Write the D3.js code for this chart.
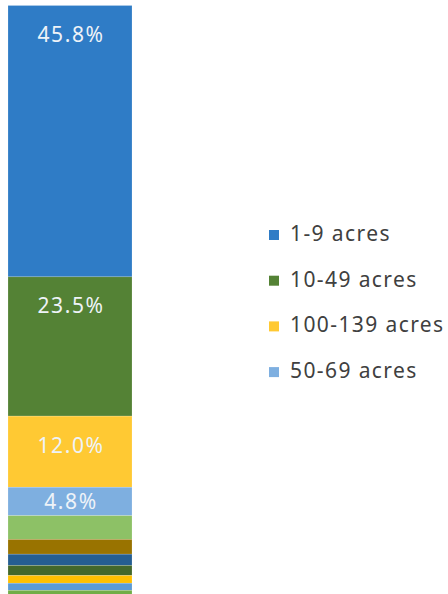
<!DOCTYPE html>
<html>
<head>
<meta charset="utf-8">
<script src="https://cdn.jsdelivr.net/npm/d3@7"></script>
<style>
  body { margin: 0; background: #fff; }
  svg { display: block; }
</style>
</head>
<body>
<script>
// farm size shares (percent), bottom of the bar is cut off like the source
var categories = ["1-9 acres", "10-49 acres", "100-139 acres", "50-69 acres", "70-99 acres",
                  "140-179 acres", "180-219 acres", "220-259 acres", "260-499 acres", "500-999 acres", "1,000+ acres"];
var values = [45.8, 23.5, 12.0, 4.8, 4.0, 2.5, 1.9, 1.7, 1.3, 1.2, 1.3];
var colors = ["#2f7cc6", "#548235", "#ffc933", "#7eafe0", "#8dc166", "#997300",
              "#255e91", "#43682b", "#ffc000", "#5b9bd5", "#70ad47"];
var legendItems = categories.slice(0, 4);

var width = 448, height = 594;

var svg = d3.select("body").append("svg")
  .attr("width", width)
  .attr("height", height);

var ends = d3.cumsum(values);
var segs = values.map(function(v, i) {
  return { name: categories[i], value: v, y0: ends[i] - v, y1: ends[i], color: colors[i] };
});

var y = d3.scaleLinear().domain([0, 100]).range([5.5, 598]);
var x = d3.scaleBand().domain(["share"]).range([8, 132]).padding(0);

svg.selectAll("rect.seg")
  .data(segs)
  .enter().append("rect")
  .attr("class", "seg")
  .attr("x", x("share"))
  .attr("width", x.bandwidth())
  .attr("y", function(d) { return y(d.y0); })
  .attr("height", function(d) { return y(d.y1) - y(d.y0); })
  .attr("fill", function(d) { return d.color; })
  .attr("stroke", "rgba(255,255,255,0.35)")
  .attr("stroke-width", 0.5);

// value labels, only on the bigger pieces
svg.selectAll("text.lbl")
  .data(segs.filter(function(d) { return d.value >= 4.5; }))
  .enter().append("text")
  .attr("class", "lbl")
  .attr("x", x("share") + x.bandwidth() / 2 + 1)
  .attr("y", function(d) {
    var h = y(d.y1) - y(d.y0);
    return y(d.y0) + Math.min(36.5, h / 2 + 7.5);
  })
  .attr("text-anchor", "middle")
  .attr("font-family", "Noto Sans, sans-serif")
  .attr("font-size", "21px")
  .attr("letter-spacing", "1.6px")
  .attr("fill", "#eef3f8")
  .text(function(d) { return d.value.toFixed(1) + "%"; });

var legend = svg.append("g").attr("transform", "translate(269,241)");
legendItems.forEach(function(name, i) {
  var g = legend.append("g").attr("transform", "translate(0," + (i * 45.7) + ")");
  g.append("rect").attr("x", 0).attr("y", -11).attr("width", 10).attr("height", 10)
    .attr("fill", colors[i]);
  g.append("text").attr("x", 21).attr("y", 0)
    .attr("font-family", "Noto Sans, sans-serif")
    .attr("font-size", "21px")
    .attr("letter-spacing", "1.4px")
    .attr("fill", "#404040")
    .text(name);
});
</script>
</body>
</html>
